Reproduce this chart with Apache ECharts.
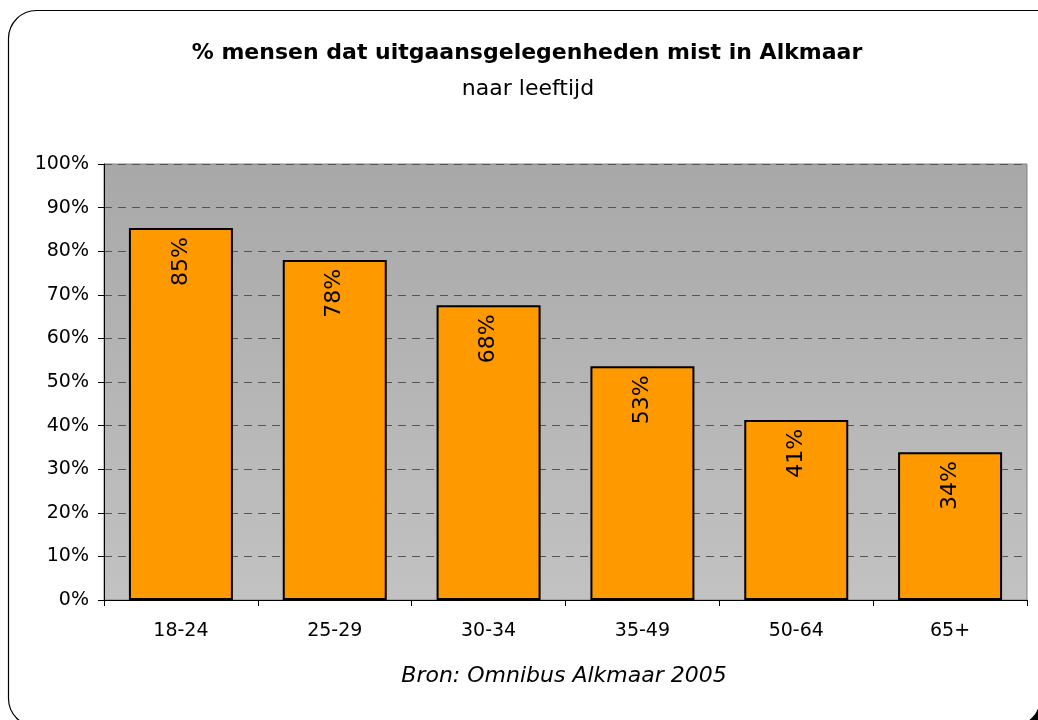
<!DOCTYPE html>
<html>
<head>
<meta charset="utf-8">
<script src="https://cdn.jsdelivr.net/npm/echarts@6/dist/echarts.min.js"></script>
<style>html,body{margin:0;padding:0;background:#fff}#c{width:1038px;height:720px}</style>
</head>
<body>
<div id="c"></div>
<script>
const categories = ['18-24', '25-29', '30-34', '35-49', '50-64', '65+'];
const values = [85.3, 78.0, 67.6, 53.6, 41.3, 33.9];
const valueLabels = ['85%', '78%', '68%', '53%', '41%', '34%'];
const yTicks = [0, 10, 20, 30, 40, 50, 60, 70, 80, 90, 100];

const chart = echarts.init(document.getElementById('c'), null, {renderer: 'canvas'});
const FONT = '"DejaVu Sans", "Liberation Sans", Arial, sans-serif';
chart.setOption({
  animation: false,
  backgroundColor: '#fff',
  graphic: [
    {type: 'rect', z: -20, shape: {x: 14.5, y: 16.5, width: 1032, height: 716, r: [28, 0, 28, 28]}, style: {fill: '#000', stroke: 'none'}},
    {type: 'rect', z: -10, shape: {x: 8.5, y: 10.5, width: 1032, height: 716, r: [28, 0, 28, 28]}, style: {fill: '#fff', stroke: '#000', lineWidth: 1.2}},
    {type: 'text', x: 527, y: 53, style: {text: '% mensen dat uitgaansgelegenheden mist in Alkmaar', font: 'bold 22px ' + FONT, fill: '#000', align: 'center', verticalAlign: 'middle'}},
    {type: 'text', x: 528, y: 89, style: {text: 'naar leeftijd', font: '22px ' + FONT, fill: '#000', align: 'center', verticalAlign: 'middle'}},
    {type: 'text', x: 564, y: 676, style: {text: 'Bron: Omnibus Alkmaar 2005', font: 'italic 22px ' + FONT, fill: '#000', align: 'center', verticalAlign: 'middle'}}
  ],
  grid: {
    left: 104, right: 11, top: 164, bottom: 120,
    show: true,
    borderColor: '#808080', borderWidth: 1,
    backgroundColor: {type: 'linear', x: 0, y: 0, x2: 0, y2: 1, colorStops: [{offset: 0, color: '#a8a8a8'}, {offset: 1, color: '#c2c2c2'}]}
  },
  xAxis: {
    type: 'category',
    data: categories,
    axisLine: {lineStyle: {color: '#000', width: 1}},
    axisTick: {show: true, length: 6, lineStyle: {color: '#000'}},
    axisLabel: {color: '#000', fontSize: 19, fontFamily: FONT, margin: 31, verticalAlign: 'middle'}
  },
  yAxis: {
    type: 'value',
    min: 0, max: 100, interval: 10,
    axisLine: {show: true, lineStyle: {color: '#000', width: 1}},
    axisTick: {show: true, length: 6, lineStyle: {color: '#000'}},
    axisLabel: {color: '#000', fontSize: 19, fontFamily: FONT, margin: 15,
      formatter: v => yTicks.includes(v) ? v + '%' : ''},
    splitLine: {show: true, lineStyle: {color: '#555', type: [8, 6], width: 1}}
  },
  series: [{
    type: 'bar',
    data: values,
    barWidth: 104,
    itemStyle: {color: '#ff9900', borderColor: '#000', borderWidth: 2},
    label: {
      show: true,
      position: 'insideTop',
      rotate: 90,
      align: 'right',
      verticalAlign: 'middle',
      distance: 9,
      fontSize: 22,
      fontFamily: FONT,
      color: '#000',
      formatter: p => valueLabels[p.dataIndex]
    }
  }]
});
</script>
</body>
</html>
